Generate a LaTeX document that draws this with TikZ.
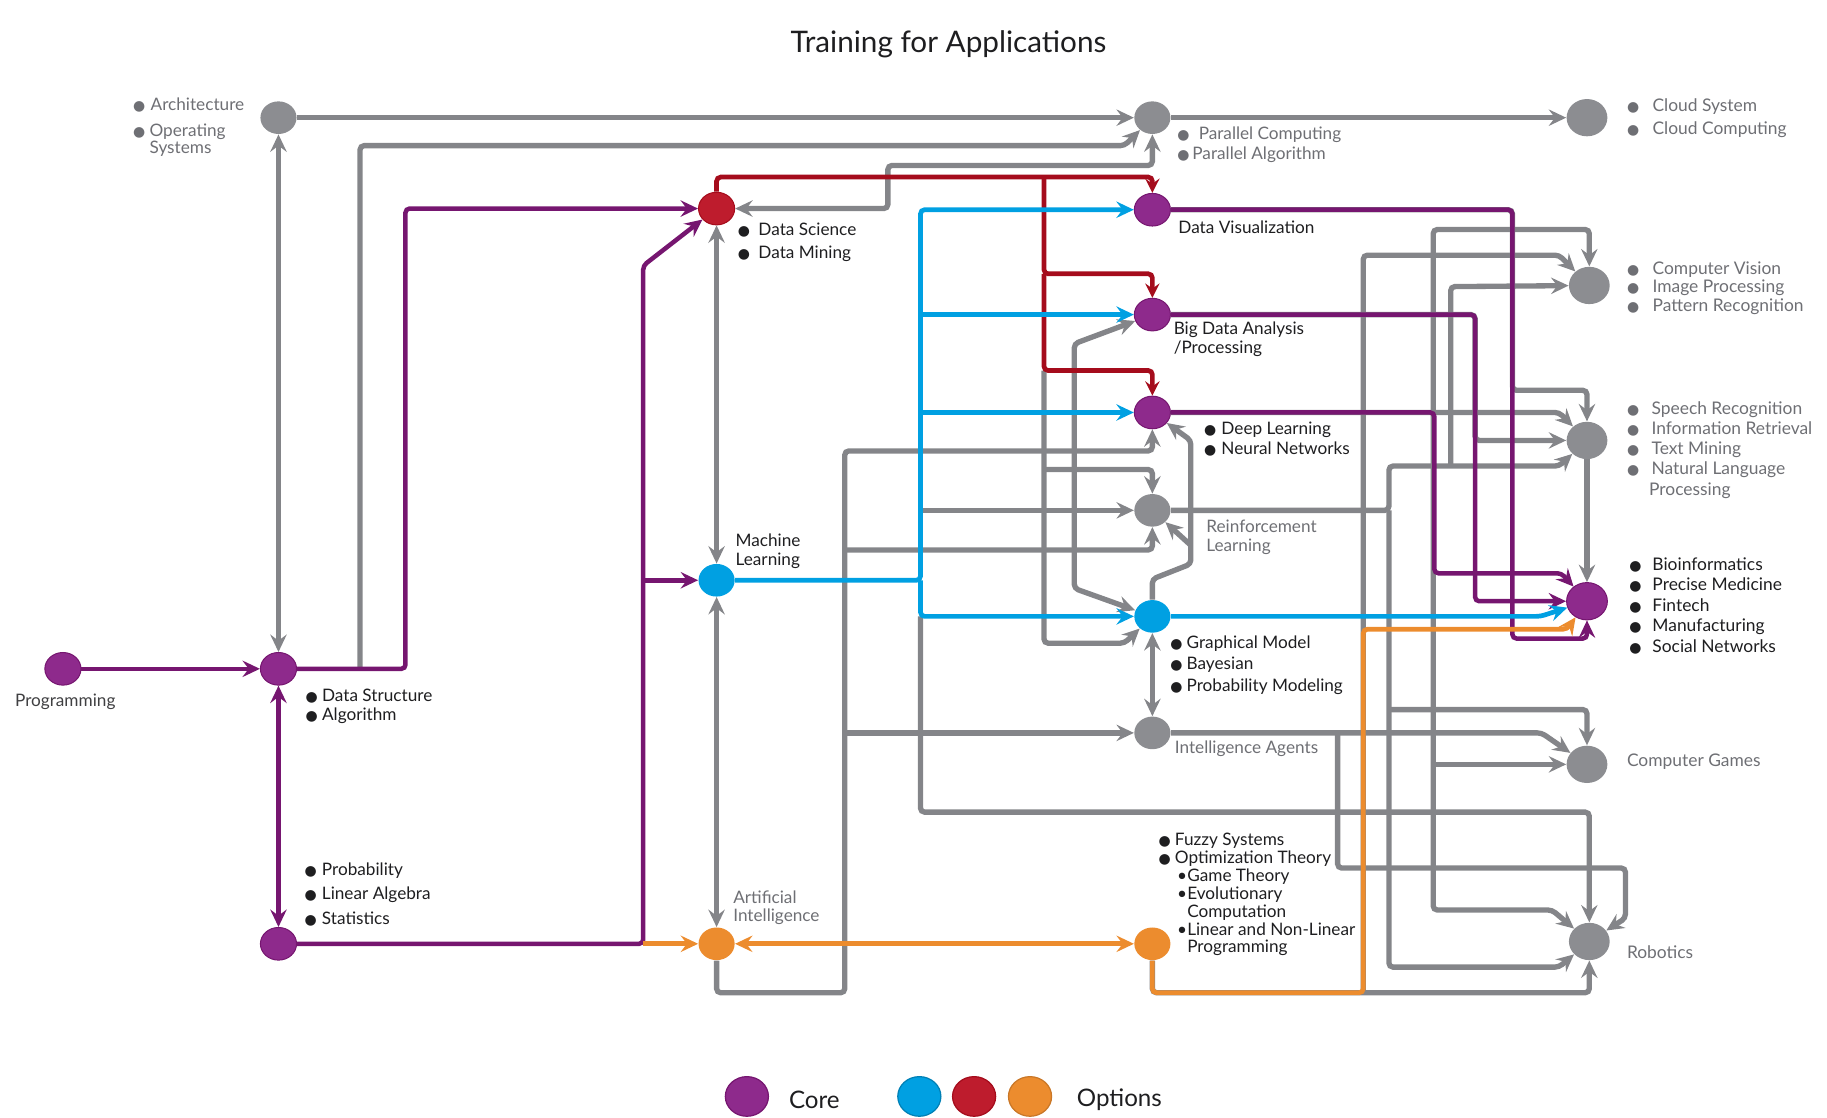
\documentclass[tikz,border=0pt]{standalone}
\usepackage{fontspec}
\setmainfont{Lato}
\newfontfamily\dejavu{DejaVu Sans}
\usetikzlibrary{shapes.geometric,arrows.meta,calc}
\definecolor{linegray}{RGB}{132,133,137}
\definecolor{hubgray}{RGB}{140,141,145}
\definecolor{corepurple}{RGB}{142,42,140}
\definecolor{purpleline}{RGB}{118,22,112}
\definecolor{optblue}{RGB}{0,160,226}
\definecolor{optred}{RGB}{190,28,45}
\definecolor{redline}{RGB}{165,12,28}
\definecolor{optorange}{RGB}{236,140,46}
\definecolor{labeldark}{RGB}{30,30,32}
\definecolor{labelgray}{RGB}{110,111,116}

\newcommand{\lsize}[1]{\fontsize{8.4}{#1}\selectfont}
\newcommand{\rsize}[1]{\fontsize{8.5}{#1}\selectfont}
\newcommand{\itm}[1][8pt]{\makebox[#1][l]{{\dejavu\fontsize{6.8}{6.8}\selectfont ●}}}
\newcommand{\subitm}{\makebox[5pt][l]{\textbullet}}

\begin{document}
\begin{tikzpicture}[x=0.02cm,y=-0.02cm,
  hub/.style={ellipse,minimum width=0.62cm,minimum height=0.56cm,inner sep=0pt},
  bighub/.style={hub,minimum width=0.7cm,minimum height=0.64cm},
  grayhub/.style={fill=hubgray},
  corehub/.style={fill=corepurple,draw=purpleline,line width=0.5pt},
  bluehub/.style={fill=optblue},
  redhub/.style={fill=optred,draw=redline,line width=0.5pt},
  orangehub/.style={fill=optorange},
  keyhub/.style={ellipse,minimum width=0.74cm,minimum height=0.68cm,inner sep=0pt,line width=0.6pt},
  lab/.style={anchor=north west,align=left,inner sep=0pt,text=labeldark},
  glab/.style={lab,text=labelgray},
  gline/.style={line width=2.6pt,draw=linegray,rounded corners=2pt},
  pline/.style={line width=2.2pt,draw=purpleline,rounded corners=2pt},
  bline/.style={line width=2.3pt,draw=optblue,rounded corners=2pt},
  rline/.style={line width=2.3pt,draw=redline,rounded corners=2pt},
  oline/.style={line width=2.3pt,draw=optorange,rounded corners=2pt},
  arr/.style={-{Stealth[length=8.5pt,width=8pt,inset=3pt]}},
  biarr/.style={{Stealth[length=8.5pt,width=8pt,inset=3pt]}-{Stealth[length=8.5pt,width=8pt,inset=3pt]}},
  sarr/.style={-{Stealth[length=7pt,width=7pt,inset=2.5pt]}}
]
\useasboundingbox (0,0) rectangle (1568,959);

\node[font=\fontsize{14.5}{17}\selectfont,text=labeldark] (title) at (814,38) {Training for Applications};

% hubs
\node[hub,corehub] (Prog) at (54,574) {};
\node[hub,corehub] (DS) at (239,574) {};
\node[hub,grayhub] (Arch) at (239,101) {};
\node[hub,corehub] (Math) at (239,810) {};
\node[hub,redhub] (DSci) at (615,179) {};
\node[hub,bluehub] (ML) at (615,498) {};
\node[hub,orangehub] (AI) at (615,810) {};
\node[hub,grayhub] (PC) at (989,101) {};
\node[hub,corehub] (DV) at (989,180) {};
\node[hub,corehub] (BD) at (989,270) {};
\node[hub,corehub] (DL) at (989,354) {};
\node[hub,grayhub] (RL) at (989,438) {};
\node[hub,bluehub] (GM) at (989,529) {};
\node[hub,grayhub] (IA) at (989,629) {};
\node[hub,orangehub] (Opt) at (989,810) {};
\node[bighub,grayhub] (Cloud) at (1362,101) {};
\node[bighub,grayhub] (CV) at (1364,245) {};
\node[bighub,grayhub] (SR) at (1362,378) {};
\node[bighub,corehub] (Bio) at (1362,516) {};
\node[bighub,grayhub] (CG) at (1362,656) {};
\node[bighub,grayhub] (Rob) at (1364,808) {};

% junctions on the buses
\coordinate (dsTap) at (309,574);
\coordinate (mathTap) at (552,498);
\coordinate (mathEnd) at (552,810);
\coordinate (mlBus) at (790,498);
\coordinate (mlBusBD) at (790,270);
\coordinate (mlBusDL) at (790,354);
\coordinate (mlBusRL) at (790,438);
\coordinate (mlBusGM) at (790,529);
\coordinate (redTopTap) at (896,152);
\coordinate (redMidTap) at (896,235);
\coordinate (sciTap) at (896,318);
\coordinate (sciTapRL) at (896,403);
\coordinate (aiTapRL) at (725,472);
\coordinate (aiTapIA) at (725,629);
\coordinate (gmTap) at (1022,468);
\coordinate (rlTap) at (1192,438);
\coordinate (rlTapCV) at (1245,400);
\coordinate (rlTapCG) at (1192,609);
\coordinate (dlTap) at (1230,354);
\coordinate (dlTapCG) at (1230,656);
\coordinate (iaTap) at (1148,629);
\coordinate (optTap) at (1170,852);

% gray links
\draw[gline,arr] (Arch) -- (PC);
\draw[gline,arr] (PC) -- (Cloud);
\draw[gline,biarr] (Arch) -- (DS);
\draw[gline,arr] (dsTap) -- (309,125) -- (965,125) -- (PC);
\draw[gline,biarr] (DSci) -- (762,179) -- (762,142) -- (989,142) -- (PC);
\draw[gline,biarr] (DSci) -- (ML);
\draw[gline,biarr] (ML) -- (AI);
\draw[gline,arr] (AI) -- (615,852) -- (725,852) -- (725,387) -- (989,387) -- (DL);
\draw[gline,arr] (aiTapRL) -- (989,472) -- (RL);
\draw[gline,arr] (aiTapIA) -- (IA);
\draw[gline,arr] (mlBusRL) -- (RL);
\draw[gline,arr] (mlBusGM) -- (790,697) -- (1364,697) -- (Rob);
\draw[gline,arr] (sciTap) -- (896,552) -- (965,552) -- (GM);
\draw[gline,arr] (sciTapRL) -- (989,403) -- (RL);
\draw[gline,biarr] (BD) -- (922,295) -- (922,505) -- (GM);
\draw[gline,arr] (GM) -- (989,497) -- (1022,484) -- (1022,378) -- (DL);
\draw[gline,arr] (gmTap) -- (RL);
\draw[gline,biarr] (GM) -- (IA);
\draw[gline,arr] (RL) -- (1192,438) -- (1192,400) -- (1338,400) -- (SR);
\draw[gline,arr] (rlTapCV) -- (1245,246) -- (CV);
\draw[gline,arr] (rlTap) -- (1192,830) -- (1338,830) -- (Rob);
\draw[gline,arr] (rlTapCG) -- (1362,609) -- (CG);
\draw[gline,arr] (IA) -- (1323,629) -- (CG);
\draw[gline,arr] (iaTap) -- (1148,745) -- (1395,745) -- (1395,788) -- (Rob);
\draw[gline,arr] (DL) -- (1338,354) -- (SR);
\draw[gline,arr] (dlTap) -- (1230,197) -- (1364,197) -- (CV);
\draw[gline,arr] (dlTap) -- (1230,781) -- (1332,781) -- (Rob);
\draw[gline,arr] (dlTapCG) -- (CG);
\draw[gline,arr] (DV) -- (1298,180) -- (1298,335) -- (1362,335) -- (SR);
\draw[gline,arr] (BD) -- (1266,270) -- (1266,378) -- (SR);
\draw[gline,arr] (Opt) -- (989,852) -- (1364,852) -- (Rob);
\draw[gline,arr] (optTap) -- (1170,219) -- (1338,219) -- (CV);
\draw[gline,arr] (SR) -- (Bio);

% core links
\draw[pline,arr] (Prog) -- (DS);
\draw[pline,biarr] (DS) -- (Math);
\draw[pline,arr] (DS) -- (348,574) -- (348,179) -- (DSci);
\draw[pline,arr] (Math) -- (552,810) -- (552,228) -- (DSci);
\draw[pline,arr] (mathTap) -- (ML);
\draw[pline,arr] (DV) -- (1298,180) -- (1298,548) -- (1362,548) -- (Bio);
\draw[pline,arr] (BD) -- (1266,270) -- (1266,516) -- (Bio);
\draw[pline,arr] (DL) -- (1231,354) -- (1231,492) -- (1340,492) -- (Bio);

% option links
\draw[rline,sarr] (DSci) -- (615,152) -- (989,152) -- (DV);
\draw[rline,sarr] (redTopTap) -- (896,235) -- (989,235) -- (BD);
\draw[rline,sarr] (redMidTap) -- (896,318) -- (989,318) -- (DL);
\draw[bline,arr] (ML) -- (790,498) -- (790,180) -- (DV);
\draw[bline,arr] (mlBusBD) -- (BD);
\draw[bline,arr] (mlBusDL) -- (DL);
\draw[bline,arr] (mlBus) -- (790,529) -- (GM);
\draw[bline,arr] (GM) -- (1322,529) -- (Bio);
\draw[oline,arr] (mathEnd) -- (AI);
\draw[oline,biarr] (AI) -- (Opt);
\draw[oline,arr] (Opt) -- (989,852) -- (1170,852) -- (1170,540) -- (1345,540) -- (Bio);

% labels
\node[glab,font=\lsize{8.5pt}] (archLab) at (114,84) {\itm[8.5pt]Architecture\\[4pt]\itm[8pt]Operating\\\hspace*{8pt}Systems};
\node[glab,font=\lsize{9.6pt}] (pcLab) at (1010,108.5) {\itm[10.5pt]Parallel Computing\\\itm[7.4pt]Parallel Algorithm};
\node[glab,font=\rsize{11.3pt}] (cloudLab) at (1396,84) {\itm[12.5pt]Cloud System\\\itm[12.5pt]Cloud Computing};
\node[lab,font=\lsize{11.3pt}] (dsciLab) at (633,191) {\itm[10pt]Data Science\\\itm[10pt]Data Mining};
\node[lab,font=\lsize{9pt},anchor=west] (dvLab) at (1011,195) {Data Visualization};
\node[lab,font=\lsize{9.1pt}] (bdLab) at (1007,276) {Big Data Analysis\\/Processing};
\node[lab,font=\lsize{9.6pt}] (dlLab) at (1033,362) {\itm[8.5pt]Deep Learning\\\itm[8.5pt]Neural Networks};
\node[glab,font=\lsize{9.1pt}] (rlLab) at (1035,446) {Reinforcement\\Learning};
\node[lab,font=\lsize{10.5pt}] (gmLab) at (1004,545) {\itm[8pt]Graphical Model\\\itm[8pt]Bayesian\\\itm[8pt]Probability Modeling};
\node[glab,font=\lsize{9pt},anchor=west] (iaLab) at (1008,643) {Intelligence Agents};
\node[lab,font=\lsize{8.7pt}] (optLab) at (994,715) {\itm[8pt]Fuzzy Systems\\\itm[8pt]Optimization Theory\\\hspace*{9pt}\subitm Game Theory\\\hspace*{9pt}\subitm Evolutionary\\\hspace*{14pt}Computation\\\hspace*{9pt}\subitm Linear and Non-Linear\\\hspace*{14pt}Programming};
\node[lab,font=\lsize{9.1pt}] (mlLab) at (631,458) {Machine\\Learning};
\node[glab,font=\lsize{9.1pt}] (aiLab) at (629,764) {Artificial\\Intelligence};
\node[lab,font=\lsize{9.1pt}] (dsLab) at (262,591) {\itm[8pt]Data Structure\\\itm[8pt]Algorithm};
\node[lab,font=\lsize{11.9pt}] (mathLab) at (261,740) {\itm[8.5pt]Probability\\\itm[8.5pt]Linear Algebra\\\itm[8.5pt]Statistics};
\node[font=\lsize{9pt},text=labeldark!85] (progLab) at (56,602) {Programming};
\node[glab,font=\rsize{9.1pt}] (cvLab) at (1396,224) {\itm[12.5pt]Computer Vision\\\itm[12.5pt]Image Processing\\\itm[12.5pt]Pattern Recognition};
\node[glab,font=\rsize{9.9pt}] (srLab) at (1396,344) {\itm[12pt]Speech Recognition\\\itm[12pt]Information Retrieval\\\itm[12pt]Text Mining\\\itm[12pt]Natural Language\\\hspace*{10.8pt}Processing};
\node[lab,font=\rsize{10pt}] (bioLab) at (1398,478) {\itm[11.3pt]Bioinformatics\\\itm[11.3pt]Precise Medicine\\\itm[11.3pt]Fintech\\\itm[11.3pt]Manufacturing\\\itm[11.3pt]Social Networks};
\node[glab,font=\rsize{9pt},anchor=west] (cgLab) at (1396,654) {Computer Games};
\node[glab,font=\rsize{9pt},anchor=west] (robLab) at (1396,817) {Robotics};

% legend
\node[keyhub,fill=corepurple,draw=purpleline] (keyCore) at (641,941) {};
\node[anchor=west,font=\fontsize{11.8}{14}\selectfont,text=labeldark] (keyCoreLab) at (671,944) {Core};
\node[keyhub,fill=optblue,draw=optblue!80!black] (keyBlue) at (789,941) {};
\node[keyhub,fill=optred,draw=redline] (keyRed) at (836,941) {};
\node[keyhub,fill=optorange,draw=optorange!85!black] (keyOrange) at (884,941) {};
\node[anchor=west,font=\fontsize{11.8}{14}\selectfont,text=labeldark] (keyOptLab) at (918,944) {Options};

\end{tikzpicture}
\end{document}
